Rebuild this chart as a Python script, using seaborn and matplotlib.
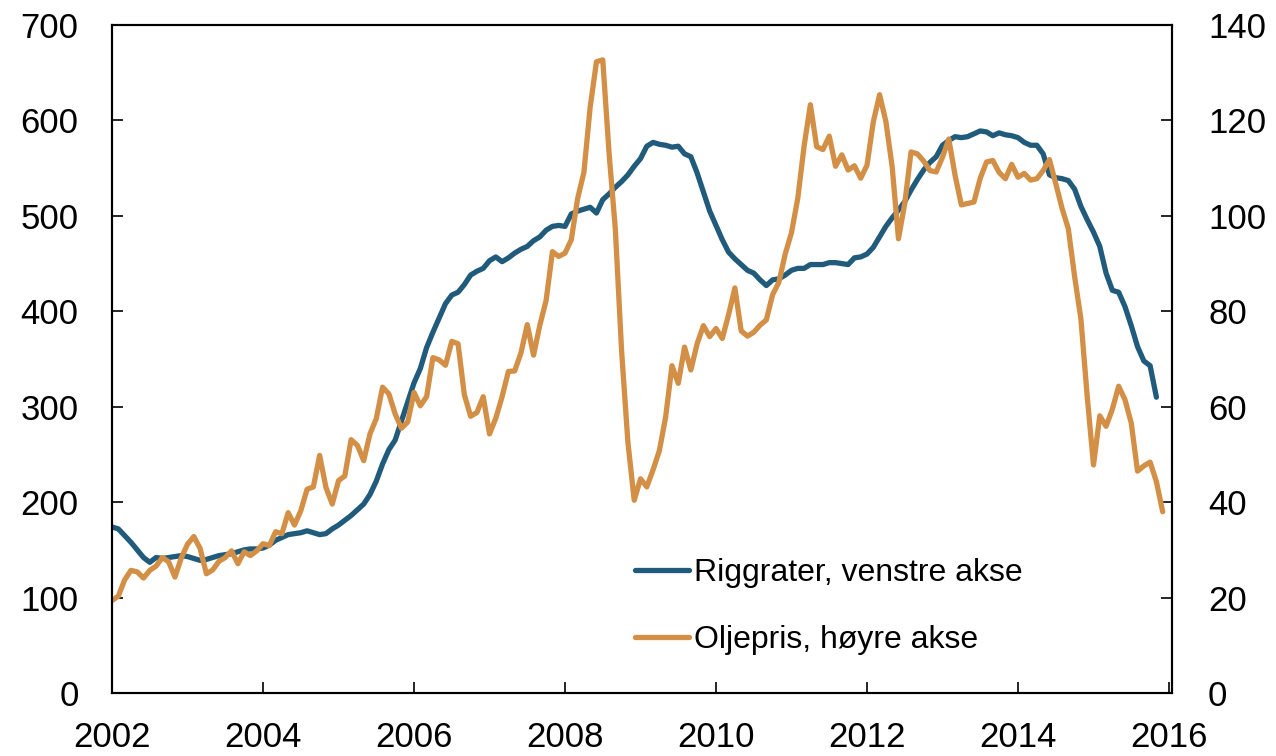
import numpy as np
import pandas as pd
import seaborn as sns
import matplotlib
matplotlib.use("Agg")
import matplotlib.pyplot as plt

# riggrater (venstre akse), månedlig jan 2002 - nov 2015
riggrater = [
    174, 172, 165, 158, 150, 142, 137, 142, 141, 142, 143, 144,
    143, 141, 139, 140, 142, 144, 145, 146, 148, 150, 151, 151,
    152, 155, 160, 163, 166, 167, 168, 170, 168, 166, 167, 172,
    176, 181, 186, 192, 198, 208, 222, 240, 255, 265, 285, 305,
    325, 340, 362, 378, 393, 408, 417, 420, 428, 438, 442, 445,
    453, 457, 452, 456, 461, 465, 468, 474, 478, 485, 489, 490,
    489, 502, 505, 507, 509, 503, 517, 523, 530, 536, 543, 552,
    560, 573, 577, 575, 574, 572, 573, 565, 562, 545, 525, 505,
    490, 475, 462, 455, 449, 443, 440, 433, 427, 433, 434, 438,
    443, 445, 445, 449, 449, 449, 451, 451, 450, 449, 456, 457,
    460, 467, 478, 489, 498, 506, 515, 527, 538, 548, 556, 562,
    574, 579, 583, 582, 583, 586, 589, 588, 584, 587, 585, 584,
    582, 577, 574, 574, 565, 543, 540, 539, 537, 528, 510, 496,
    483, 468, 440, 422, 420, 405, 385, 363, 348, 343, 310,
]

# oljepris (høyre akse), månedlig jan 2002 - des 2015
oljepris = [
    19.4, 20.3, 23.7, 25.7, 25.4, 24.1, 25.7, 26.6, 28.4, 27.5, 24.3, 28.3,
    31.2, 32.8, 30.3, 25.0, 25.8, 27.6, 28.4, 29.8, 27.1, 29.6, 28.8, 29.8,
    31.3, 30.9, 33.8, 33.4, 37.8, 35.2, 38.2, 42.7, 43.2, 49.8, 43.1, 39.6,
    44.5, 45.5, 53.1, 51.9, 48.7, 54.3, 57.5, 64.1, 62.7, 58.5, 55.5, 56.8,
    63.0, 60.2, 62.1, 70.3, 69.8, 68.7, 73.7, 73.2, 62.5, 58.0, 58.8, 62.1,
    54.3, 57.6, 62.1, 67.4, 67.5, 71.3, 77.2, 70.8, 77.1, 82.3, 92.5, 91.5,
    92.2, 95.0, 103.6, 109.1, 122.8, 132.3, 132.7, 113.2, 97.2, 71.6, 52.5, 40.4,
    44.9, 43.2, 46.8, 50.8, 57.9, 68.6, 64.9, 72.5, 67.7, 73.2, 77.0, 74.7,
    76.4, 74.3, 79.3, 84.9, 75.9, 74.8, 75.6, 77.1, 78.2, 83.5, 86.1, 92.0,
    96.5, 103.7, 114.6, 123.3, 114.5, 113.9, 116.7, 110.4, 112.8, 109.6, 110.5, 107.9,
    110.6, 119.7, 125.4, 119.8, 110.3, 95.2, 102.6, 113.4, 113.0, 111.5, 109.5, 109.2,
    112.3, 116.1, 108.5, 102.3, 102.6, 102.9, 107.9, 111.3, 111.6, 109.1, 107.8, 110.8,
    108.1, 108.9, 107.5, 107.8, 109.5, 111.8, 106.8, 101.6, 97.3, 87.3, 78.4, 62.2,
    47.8, 58.1, 55.9, 59.5, 64.3, 61.5, 56.6, 46.5, 47.6, 48.4, 44.3, 38.0,
]

x_rigg = 2002 + np.arange(len(riggrater)) / 12
x_olje = 2002 + np.arange(len(oljepris)) / 12
df_rigg = pd.DataFrame({"dato": x_rigg, "verdi": riggrater})
df_olje = pd.DataFrame({"dato": x_olje, "verdi": oljepris})

sns.set_style("ticks")
plt.rcParams["font.family"] = ["Liberation Sans", "DejaVu Sans"]
plt.rcParams.update({"text.color": "black", "xtick.color": "black",
                     "ytick.color": "black", "axes.labelcolor": "black"})

blaa = "#215b7c"
oransje = "#d28f45"

fig = plt.figure(figsize=(12.76, 7.56), dpi=100)
ax = fig.add_axes([0.0878, 0.0833, 0.8307, 0.8836])
ax2 = ax.twinx()

sns.lineplot(data=df_rigg, x="dato", y="verdi", ax=ax, color=blaa, lw=3.8,
             label="Riggrater, venstre akse", legend=False)
sns.lineplot(data=df_olje, x="dato", y="verdi", ax=ax2, color=oransje, lw=3.8,
             label="Oljepris, høyre akse", legend=False)

ax.set_xlim(2002, 2016.04)
ax.set_ylim(0, 700)
ax2.set_ylim(0, 140)
ax.set_xticks(range(2002, 2017, 2))
ax.set_yticks(range(0, 701, 100))
ax2.set_yticks(range(0, 141, 20))
ax.set_xlabel("")
ax.set_ylabel("")
ax2.set_ylabel("")

for a in (ax, ax2):
    for s in a.spines.values():
        s.set_visible(True)
        s.set_color("black")
        s.set_linewidth(1.5)

ax.tick_params(axis="y", direction="in", length=8, width=1.2, labelsize=25,
               pad=24, left=True, right=False, colors="black")
ax.tick_params(axis="x", direction="in", length=8, width=1.2, labelsize=25,
               pad=20, colors="black")
ax2.tick_params(axis="y", direction="in", length=8, width=1.2, labelsize=25,
                pad=26, right=True, left=False, colors="black")

h1, l1 = ax.get_legend_handles_labels()
h2, l2 = ax2.get_legend_handles_labels()
leg = ax2.legend(h1 + h2, l1 + l2, loc="upper left",
                 bbox_to_anchor=(0.493, 0.202), frameon=False, fontsize=23,
                 handlelength=1.7, handletextpad=0.15, labelspacing=1.15,
                 borderpad=0, borderaxespad=0)
for t in leg.get_texts():
    t.set_color("black")

fig.savefig("out.png", dpi=100)
